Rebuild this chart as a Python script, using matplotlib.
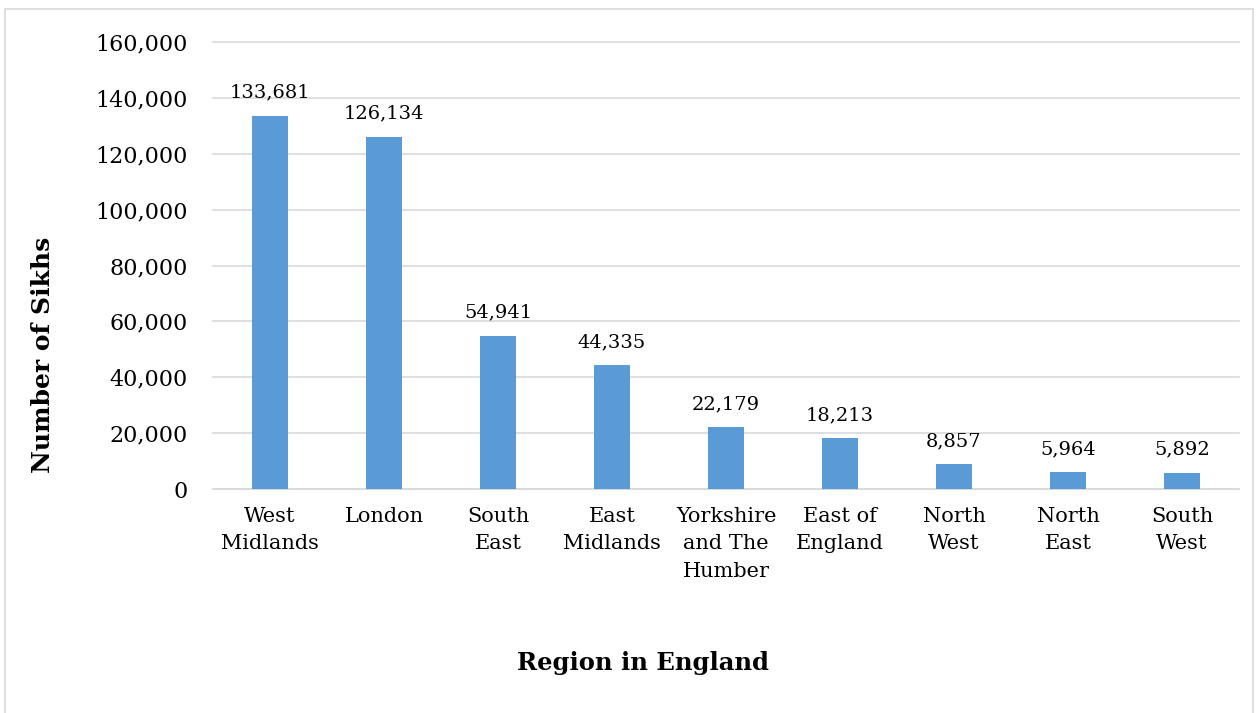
import matplotlib.pyplot as plt
from matplotlib.patches import Rectangle

regions = ["West\nMidlands", "London", "South\nEast", "East\nMidlands",
           "Yorkshire\nand The\nHumber", "East of\nEngland", "North\nWest",
           "North\nEast", "South\nWest"]
sikhs = [133681, 126134, 54941, 44335, 22179, 18213, 8857, 5964, 5892]
yticks = [0, 20000, 40000, 60000, 80000, 100000, 120000, 140000, 160000]

plt.rcParams['font.family'] = ['DejaVu Serif']

fig = plt.figure(figsize=(12.59, 7.13), dpi=100)
ax = fig.add_axes([213 / 1259, 1 - 489 / 713, 1026 / 1259, 447 / 713])

x = range(len(regions))
ax.bar(x, sikhs, width=0.32, color='#5B9BD5', zorder=3)
for i, v in enumerate(sikhs):
    ax.text(i, v + 5000, f"{v:,}", ha='center', va='bottom', fontsize=14)

ax.set_xlim(-0.5, len(regions) - 0.5)
ax.set_ylim(0, 160000)
ax.set_yticks(yticks)
ax.set_yticklabels([f"{t:,}" for t in yticks], fontsize=16)
ax.set_xticks(list(x))
ax.set_xticklabels(regions, fontsize=15, linespacing=1.55)
ax.tick_params(length=0)
ax.tick_params(axis='x', pad=13)
ax.tick_params(axis='y', pad=18)
ax.grid(axis='y', color='#D9D9D9', linewidth=1.2, zorder=0)
for gl in ax.get_ygridlines():
    gl.set_clip_on(False)
for s in ['top', 'right', 'left']:
    ax.spines[s].set_visible(False)
ax.spines['bottom'].set_color('#D9D9D9')
ax.spines['bottom'].set_linewidth(1.2)

fig.text(43 / 1259, 1 - 355 / 713, "Number of Sikhs", rotation=90,
         ha='center', va='center', fontsize=18, fontweight='bold')
fig.text(643 / 1259, 1 - 663 / 713, "Region in England",
         ha='center', va='center', fontsize=17.5, fontweight='bold')

fig.patches.append(Rectangle((5 / 1259, -0.01), 1248 / 1259, 1 - 9 / 713 + 0.01,
                             transform=fig.transFigure, fill=False,
                             edgecolor='#D9D9D9', linewidth=1.2))

fig.savefig('out.png', dpi=100)
